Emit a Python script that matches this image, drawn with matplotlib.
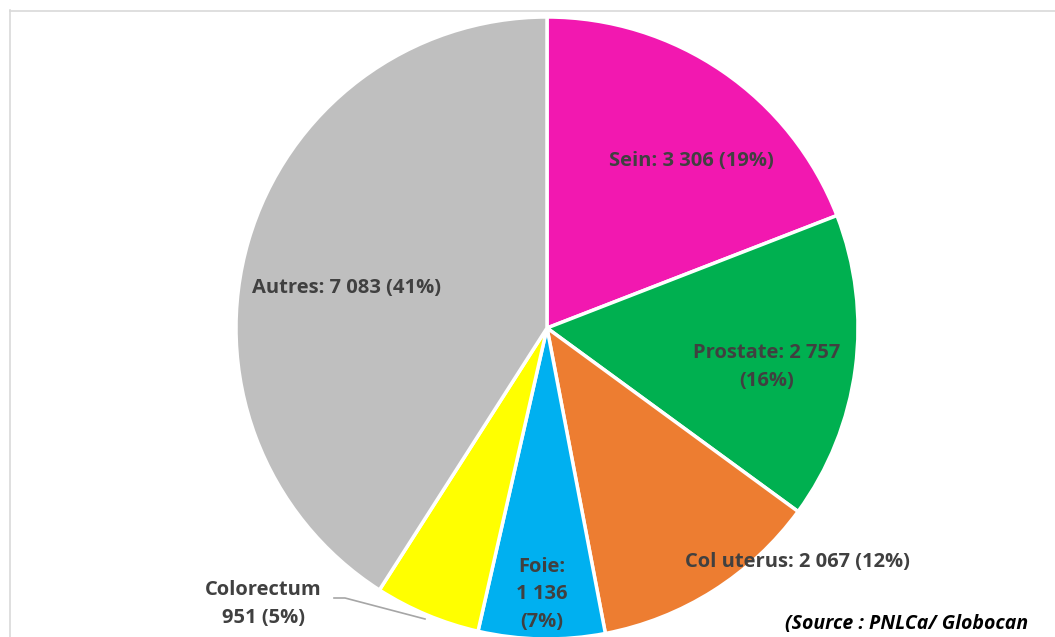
import matplotlib
matplotlib.use("Agg")
import matplotlib.pyplot as plt
from matplotlib.lines import Line2D

categories = ["Sein", "Prostate", "Col uterus", "Foie", "Colorectum", "Autres"]
values = [3306, 2757, 2067, 1136, 951, 7083]
colors = ["#F218B0", "#00B050", "#ED7D31", "#00B0F0", "#FFFF00", "#BFBFBF"]
source = "(Source : PNLCa/ Globocan"

W, H = 1055, 637
fig = plt.figure(figsize=(W / 100, H / 100), dpi=100)
ax = fig.add_axes([0, 0, 1, 1])
ax.set_xlim(0, W)
ax.set_ylim(0, H)
ax.set_aspect("equal")
ax.axis("off")

# pie centre / radius in pixels (y up)
cx, cy, r = 547, H - 328, 311
ax.pie(values, colors=colors, startangle=90, counterclock=False,
       center=(cx, cy), radius=r,
       wedgeprops=dict(edgecolor="white", linewidth=2.5))
ax.set_xlim(0, W)
ax.set_ylim(0, H)

total = sum(values)
def fmt(v):
    return "{:,}".format(v).replace(",", " ")
pct = [round(v / total * 100) for v in values]

lab = {}
for c, v, p in zip(categories, values, pct):
    lab[c] = (fmt(v), "(%d%%)" % p)

txt = dict(family="Open Sans", weight="bold", size=14.5, color="#404040",
           ha="center", va="center", linespacing=1.5)

def put(x, y, s):
    ax.text(x, H - y, s, **txt)

put(691, 161, "Sein: %s %s" % lab["Sein"])
put(767, 367, "Prostate: %s\n%s" % lab["Prostate"])
put(797, 562, "Col uterus: %s %s" % lab["Col uterus"])
put(542, 594, "Foie:\n%s\n%s" % lab["Foie"])
put(263, 604, "Colorectum\n%s %s" % lab["Colorectum"])
put(346, 288, "Autres: %s %s" % lab["Autres"])

# leader line for Colorectum
ax.plot([334, 345, 425], [H - 598, H - 598, H - 619], color="#A6A6A6", lw=1.2)

ax.text(785, H - 624, source, family="Open Sans", weight="bold", style="italic",
        size=14, color="black", ha="left", va="center")

# chart frame
fig.add_artist(Line2D([9.5 / W, 9.5 / W], [0, 1 - 10 / H], color="#D9D9D9", lw=1.2,
                      transform=fig.transFigure))
fig.add_artist(Line2D([9.5 / W, 1], [1 - 10.5 / H, 1 - 10.5 / H], color="#D9D9D9", lw=1.2,
                      transform=fig.transFigure))

fig.savefig("out.png", dpi=100)
